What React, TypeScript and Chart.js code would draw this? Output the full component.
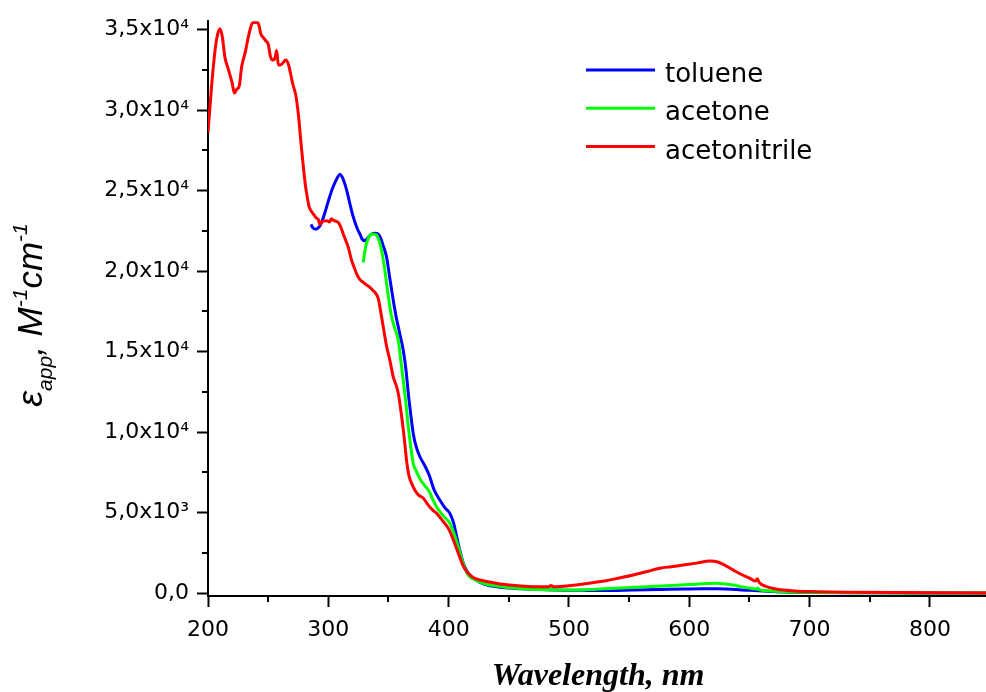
import { useEffect, useRef } from 'react';
import { Chart, registerables } from 'chart.js';

Chart.register(...registerables);

// ---- data ----
const seriesLabels = ['toluene', 'acetone', 'acetonitrile'];
const seriesColors = ['#0000ff', '#00ff00', '#ff0000'];

const tolueneNm = [285.6,287,288.9,291,293.1,295,297.2,299,301.4,303.5,305.5,307.5,309.7,311.5,313.8,316,318,320,322.2,324.3,326.3,328,329.6,331.5,333.2,335,337.4,339,341.5,343.5,345.5,348.5,351,354,356,358.2,360,362.3,364.5,366.5,368.5,370.6,373,376.2,380,384,388,392.8,397,401,404,406.7,409.5,412.2,415,417.7,422,428.8,440,455,470,490,512,530,553.5,575,595,610,622.8,635,650,665,678,700,750,800,850];
const tolueneEps = [22900,22700,22610,22650,22820,23150,23640,24100,24680,25150,25500,25800,26020,25850,25400,24800,24160,23550,23020,22600,22300,22000,21890,21950,22090,22250,22340,22350,22300,22050,21600,20850,19600,18170,17300,16520,15900,15070,13900,12390,11100,9910,9100,8460,7950,7300,6400,5780,5300,4960,4400,3510,2600,1860,1400,1130,850,580,400,300,260,200,180,170,200,230,260,280,280,250,180,120,80,50,30,20,15];

const acetoneNm = [329,331,333,335,337,339,340.5,342.5,344.3,346.5,348.5,350.5,352.7,355,358.2,360,362.3,364.5,366.5,368.5,370.6,373,376.2,380,384,387,390,395,401,404,408,411,413.6,416,420,428.8,440,456.5,470,484,485,486,498,520,539.6,560,581,600,615,622.8,630,636.6,645,652,656,657,658,665,678,700,720,760,800,850];
const acetoneEps = [20540,21500,22000,22250,22300,22280,22200,21800,21270,20300,19200,18100,17140,16500,15690,14600,13210,11800,10320,9100,8050,7600,7100,6700,6300,5800,5360,4850,4340,3800,2890,2100,1550,1150,900,620,450,310,250,220,300,210,200,240,310,390,470,540,600,620,580,510,380,290,250,320,220,150,100,60,40,25,20,15];

const acetonitrileNm = [200,203,206,208,210,212,214,217,220,222,224,226,228,231,234,237,240,242,244,246,248,250,252,254,256,257,258.5,260,262,264.5,267,268.5,270.5,273,275,276.5,278,279.5,281,282.5,284,286,288,290,291.7,293,294.5,296,298.6,301,302.5,304,306,308.3,310,312.4,314.5,316.6,319.4,321.5,323.6,326,329,331.5,334.6,337,338.8,341.5,343.5,345.7,348.5,351.2,354,356,358.2,360,361,363,365,367,369.3,372,375,379,383,387,390,395,399.7,404,408,411.5,415,420,426,435,442.7,455,470,483,485,487,500,512,521,531,542,553.5,565,575.6,585,595,606,617,623,630,636.6,643,650.4,655,656.5,658,664.3,671,678,690,705.8,730,775,800,850];
const acetonitrileEps = [28600,31500,33800,34700,35050,34500,33300,32500,31700,31050,31300,31500,32700,33600,34700,35400,35450,35350,34700,34500,34300,34100,33300,33100,33300,33700,32800,32800,32900,33100,32800,32300,31600,30900,29800,28600,27400,26300,25300,24600,24000,23700,23500,23300,23200,22900,23050,23100,23130,23050,23250,23170,23100,23020,22800,22300,21900,21470,20650,20230,19820,19500,19300,19150,18990,18800,18680,18300,17500,16520,15300,14450,13420,13000,12390,11500,10940,9700,8260,7300,6810,6400,6090,5900,5470,5150,4960,4500,4030,3300,2480,1800,1340,1000,820,680,580,480,410,400,480,410,470,580,670,780,950,1130,1350,1550,1650,1750,1870,2000,1960,1720,1440,1180,930,760,900,680,410,280,200,130,100,70,40,30,20];

const xTickValues = [200, 300, 400, 500, 600, 700, 800];
const xTickLabels = ['200', '300', '400', '500', '600', '700', '800'];
const xMinorValues = [250, 350, 450, 550, 650, 750];
const yTickValues = [0, 5000, 10000, 15000, 20000, 25000, 30000, 35000];
const yTickLabels = ['0,0', '5,0x10³', '1,0x10⁴', '1,5x10⁴', '2,0x10⁴', '2,5x10⁴', '3,0x10⁴', '3,5x10⁴'];
const yMinorValues = [2500, 7500, 12500, 17500, 22500, 27500, 32500];

const xTitle = 'Wavelength, nm';
const yTitleRuns = [
  { t: 'ε', size: 36, dy: 0 },
  { t: 'app', size: 21, dy: 10 },
  { t: ', ', size: 35, dy: 0 },
  { t: 'M', size: 35, dy: 0 },
  { t: '-1', size: 21, dy: -15 },
  { t: 'cm', size: 35, dy: 0 },
  { t: '-1', size: 21, dy: -15 },
];

const X_MIN = 200;
const X_MAX = 846.6;
const Y_MIN = -170;
const Y_MAX = 35515;

export default function App() {
  const ref = useRef<HTMLCanvasElement>(null);

  useEffect(() => {
    const canvas = ref.current;
    if (!canvas) return;
    const mk = (xs: number[], ys: number[]) => xs.map((x, i) => ({ x, y: ys[i] }));
    const series = [mk(tolueneNm, tolueneEps), mk(acetoneNm, acetoneEps), mk(acetonitrileNm, acetonitrileEps)];

    const minorTicks = {
      id: 'minorTicks',
      afterDraw(chart: any) {
        const c = chart.ctx;
        const xs = chart.scales.x;
        const ys = chart.scales.y;
        const area = chart.chartArea;
        c.save();
        c.strokeStyle = '#000';
        c.lineWidth = 2;
        c.beginPath();
        for (const v of yMinorValues) {
          const p = Math.round(ys.getPixelForValue(v));
          c.moveTo(area.left - 6, p);
          c.lineTo(area.left, p);
        }
        for (const v of xMinorValues) {
          const p = Math.round(xs.getPixelForValue(v));
          c.moveTo(p, area.bottom);
          c.lineTo(p, area.bottom + 6);
        }
        c.stroke();
        c.restore();
      },
    };

    const titles = {
      id: 'axisTitles',
      afterDraw(chart: any) {
        const c = chart.ctx;
        c.save();
        c.fillStyle = '#000';
        c.font = 'bold italic 32px "Liberation Serif", "Times New Roman", serif';
        c.textAlign = 'center';
        c.textBaseline = 'alphabetic';
        c.fillText(xTitle, 598, 685);

        // y title with sub/superscripts, rotated
        c.translate(42, 315);
        c.rotate(-Math.PI / 2);
        c.textAlign = 'left';
        let total = 0;
        const widths: number[] = [];
        for (const r of yTitleRuns) {
          c.font = `italic ${r.size}px "Liberation Sans", Arial, sans-serif`;
          const w = c.measureText(r.t).width;
          widths.push(w);
          total += w;
        }
        let x = -total / 2;
        yTitleRuns.forEach((r, i) => {
          c.font = `italic ${r.size}px "Liberation Sans", Arial, sans-serif`;
          c.fillText(r.t, x, r.dy);
          x += widths[i];
        });
        c.restore();
      },
    };

    const legendBox = {
      id: 'legendBox',
      afterDraw(chart: any) {
        const c = chart.ctx;
        c.save();
        chart.data.datasets.forEach((ds: any, i: number) => {
          const y = 70 + i * 38.3;
          c.strokeStyle = ds.borderColor;
          c.lineWidth = 3;
          c.beginPath();
          c.moveTo(586, y);
          c.lineTo(655, y);
          c.stroke();
          c.fillStyle = '#000';
          c.font = '26px "DejaVu Sans", sans-serif';
          c.textAlign = 'left';
          c.textBaseline = 'alphabetic';
          c.fillText(ds.label, 665, y + 12);
        });
        c.restore();
      },
    };

    const chart = new Chart(canvas, {
      type: 'line',
      data: {
        datasets: series.map((d, i) => ({
          label: seriesLabels[i],
          data: d,
          borderColor: seriesColors[i],
          backgroundColor: seriesColors[i],
          borderWidth: 3,
          pointRadius: 0,
          cubicInterpolationMode: 'monotone' as const,
          fill: false,
          order: 3 - i,
        })),
      },
      options: {
        responsive: false,
        animation: false,
        devicePixelRatio: 1,
        layout: { padding: { left: 0, right: 0, top: 20, bottom: 0 } },
        plugins: { legend: { display: false }, tooltip: { enabled: false } },
        scales: {
          x: {
            type: 'linear',
            min: X_MIN,
            max: X_MAX,
            afterBuildTicks: (s: any) => {
              s.ticks = xTickValues.map((v) => ({ value: v }));
            },
            afterFit: (s: any) => {
              s.height = 96;
            },
            ticks: {
              autoSkip: false,
              maxRotation: 0,
              minRotation: 0,
              padding: 10,
              color: '#000',
              font: { family: '"DejaVu Sans", sans-serif', size: 22 },
              callback: (v: any) => xTickLabels[xTickValues.indexOf(Number(v))] ?? '',
            },
            grid: {
              drawOnChartArea: false,
              drawTicks: true,
              tickLength: 11,
              tickColor: '#000',
              tickWidth: 2,
            },
            border: { display: true, color: '#000', width: 2 },
          },
          y: {
            type: 'linear',
            min: Y_MIN,
            max: Y_MAX,
            afterBuildTicks: (s: any) => {
              s.ticks = yTickValues.map((v) => ({ value: v }));
            },
            afterFit: (s: any) => {
              s.width = 208;
            },
            ticks: {
              autoSkip: false,
              padding: 8,
              color: '#000',
              font: { family: '"DejaVu Sans", sans-serif', size: 22 },
              callback: (v: any) => yTickLabels[yTickValues.indexOf(Number(v))] ?? '',
            },
            grid: {
              drawOnChartArea: false,
              drawTicks: true,
              tickLength: 11,
              tickColor: '#000',
              tickWidth: 2,
            },
            border: { display: true, color: '#000', width: 2 },
          },
        },
      },
      plugins: [minorTicks, titles, legendBox],
    });
    return () => chart.destroy();
  }, []);

  return (
    <div style={{ position: 'absolute', left: 0, top: 0, width: 986, height: 692, background: '#fff' }}>
      <canvas ref={ref} width={986} height={692} style={{ display: 'block' }} />
    </div>
  );
}
